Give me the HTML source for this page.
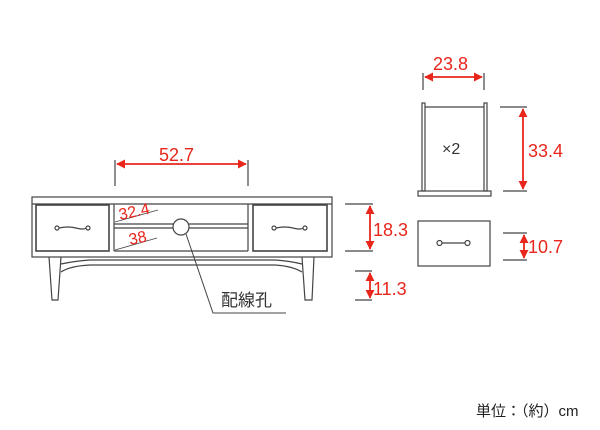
<!DOCTYPE html>
<html><head><meta charset="utf-8"><style>body{margin:0;background:#fff}svg{display:block}</style></head><body>
<svg width="600" height="430" viewBox="0 0 600 430" xmlns="http://www.w3.org/2000/svg" font-family="Liberation Sans, Noto Sans CJK JP, sans-serif">
<defs><marker id="a" viewBox="0 0 10 10" refX="9" refY="5" markerWidth="5" markerHeight="5" orient="auto-start-reverse"><path d="M0,0L10,5L0,10z" fill="#e8261c"/></marker></defs>
<g fill="none" stroke="#444" stroke-width="1.2">
<rect x="32" y="197" width="300" height="60"/>
<line x1="32" y1="204" x2="332" y2="204"/>
<rect x="36" y="205" width="73" height="46" stroke-width="1.6"/>
<rect x="253" y="205" width="74" height="46" stroke-width="1.6"/>
<line x1="114" y1="204" x2="114" y2="251"/><line x1="248" y1="204" x2="248" y2="251"/>
<line x1="114" y1="251" x2="248" y2="251"/>
<line x1="114" y1="224" x2="248" y2="224"/><line x1="114" y1="228" x2="248" y2="228"/>
<circle cx="181" cy="227" r="8" fill="#fff"/>
<path d="M49,257 L52,300 L58,300 L61,257"/>
<path d="M302,257 L305,300 L312,300 L314,257"/>
<path d="M61,264 Q75,261 90,260 L275,260 Q290,261 302,264"/>
<path d="M61,272 Q70,266 90,265 L275,265 Q292,266 302,272"/>
<path d="M55,228 a2,2 0 1,0 4,0 a2,2 0 1,0 -4,0 M59,228 Q68,226 76,228 Q84,230 86,228 a2,2 0 1,0 4,0 a2,2 0 1,0 -4,0" />
<path d="M272,228 a2,2 0 1,0 4,0 a2,2 0 1,0 -4,0 M276,228 Q285,226 293,228 Q301,230 303,228 a2,2 0 1,0 4,0 a2,2 0 1,0 -4,0"/>
<line x1="115" y1="222" x2="158" y2="210" stroke-width="0.8"/>
<line x1="115" y1="250" x2="157" y2="238" stroke-width="0.8"/>
<path d="M186,234 L213,313 L286,313" stroke-width="1"/>
<line x1="115" y1="160" x2="115" y2="186"/><line x1="248" y1="160" x2="248" y2="186"/>
<line x1="345" y1="204" x2="373" y2="204"/><line x1="345" y1="251" x2="373" y2="251"/>
<line x1="355" y1="271" x2="372" y2="271"/><line x1="355" y1="300" x2="372" y2="300"/>
<line x1="423" y1="73" x2="423" y2="90"/><line x1="484" y1="73" x2="484" y2="90"/>
<rect x="422" y="103" width="3" height="88"/><rect x="484" y="103" width="3" height="88"/>
<line x1="425" y1="107" x2="484" y2="107"/>
<rect x="418" y="191" width="73" height="5"/>
<line x1="500" y1="107" x2="527" y2="107"/><line x1="503" y1="191" x2="527" y2="191"/>
<rect x="418" y="221" width="72" height="45"/>
<path d="M437,243 a2.5,2.5 0 1,0 5,0 a2.5,2.5 0 1,0 -5,0 M442,243 L465,243 a2.5,2.5 0 1,0 5,0 a2.5,2.5 0 1,0 -5,0"/>
<line x1="503" y1="233" x2="527" y2="233"/><line x1="503" y1="260" x2="527" y2="260"/>
</g>
<g stroke="#e8261c" stroke-width="1.8" marker-start="url(#a)" marker-end="url(#a)">
<line x1="117" y1="164" x2="246" y2="164"/>
<line x1="370" y1="206" x2="370" y2="249"/>
<line x1="370" y1="273" x2="370" y2="298"/>
<line x1="425" y1="77" x2="482" y2="77"/>
<line x1="523" y1="109" x2="523" y2="189"/>
<line x1="524" y1="235" x2="524" y2="258"/>
</g>
<g fill="#e8261c" font-size="18">
<text x="159" y="161">52.7</text>
<text x="373" y="236">18.3</text>
<text x="373" y="295">11.3</text>
<text x="433" y="70">23.8</text>
<text x="528" y="157">33.4</text>
<text x="528" y="253">10.7</text>
<text x="120" y="220" font-size="16" transform="rotate(-12 120 220)">32.4</text>
<text x="130" y="245" font-size="16" transform="rotate(-12 130 245)">38</text>
</g>
<text x="221" y="306" font-size="17" fill="#333">配線孔</text>
<text x="442" y="154" font-size="16" fill="#333">×2</text>
<text x="476" y="416" font-size="15" fill="#222">単位：（約）cm</text>
</svg>
</body></html>
